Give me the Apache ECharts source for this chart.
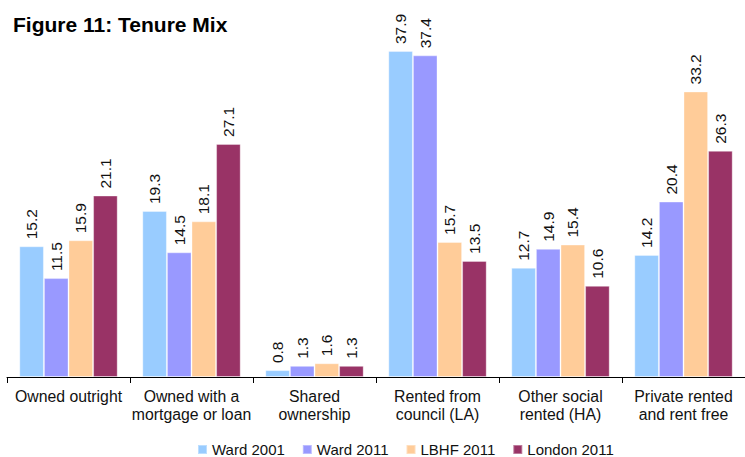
<!DOCTYPE html>
<html>
<head>
<meta charset="utf-8">
<script src="https://cdn.jsdelivr.net/npm/echarts@6/dist/echarts.min.js"></script>
<style>
  html, body { margin: 0; padding: 0; background: #fff; }
  #chart { width: 745px; height: 457px; }
</style>
</head>
<body>
<div id="chart"></div>
<script>
(function() {
  var categories = [
    'Owned outright',
    'Owned with a\nmortgage or loan',
    'Shared\nownership',
    'Rented from\ncouncil (LA)',
    'Other social\nrented (HA)',
    'Private rented\nand rent free'
  ];
  var seriesNames = ['Ward 2001', 'Ward 2011', 'LBHF 2011', 'London 2011'];
  var ward2001 = [15.2, 19.3, 0.8, 37.9, 12.7, 14.2];
  var ward2011 = [11.5, 14.5, 1.3, 37.4, 14.9, 20.4];
  var lbhf2011 = [15.9, 18.1, 1.6, 15.7, 15.4, 33.2];
  var london2011 = [21.1, 27.1, 1.3, 13.5, 10.6, 26.3];
  var colors = ['#99ccff', '#9999ff', '#ffcc99', '#993366'];

  var font = '"Liberation Sans", Arial, sans-serif';

  function makeSeries(name, data) {
    return {
      name: name,
      type: 'bar',
      data: data,
      barGap: '0%',
      barCategoryGap: '20%',
      itemStyle: { borderColor: 'rgba(255,255,255,0.35)', borderWidth: 1 },
      label: {
        show: true,
        position: 'top',
        rotate: 90,
        align: 'left',
        verticalAlign: 'middle',
        distance: 7,
        color: '#111',
        fontSize: 15.5,
        fontFamily: font,
        formatter: function(p) { return p.value.toFixed(1); }
      }
    };
  }

  var chart = echarts.init(document.getElementById('chart'), null, { renderer: 'svg' });
  chart.setOption({
    animation: false,
    color: colors,
    title: {
      text: 'Figure 11: Tenure Mix',
      left: 8,
      top: 9,
      textStyle: { fontFamily: font, fontWeight: 'bold', fontSize: 21, color: '#000' }
    },
    legend: {
      data: seriesNames,
      left: 197,
      top: 442,
      padding: 0,
      icon: 'rect',
      itemWidth: 9,
      itemHeight: 9,
      itemGap: 17,
      textStyle: { fontFamily: font, fontSize: 15, color: '#111' }
    },
    grid: { left: 7, width: 749, top: 33, bottom: 80 },
    xAxis: {
      type: 'category',
      data: categories,
      axisLine: { lineStyle: { color: '#000', width: 1 } },
      axisTick: { show: true, length: 6, lineStyle: { color: '#000' } },
      axisLabel: {
        color: '#111',
        fontSize: 15.8,
        fontFamily: font,
        lineHeight: 18,
        margin: 10,
        interval: 0
      }
    },
    yAxis: {
      type: 'value',
      min: 0,
      max: 40,
      show: false,
      splitLine: { show: false }
    },
    series: [
      makeSeries(seriesNames[0], ward2001),
      makeSeries(seriesNames[1], ward2011),
      makeSeries(seriesNames[2], lbhf2011),
      makeSeries(seriesNames[3], london2011)
    ]
  });
  window.addEventListener('resize', function() { chart.resize(); });
})();
</script>
</body>
</html>
